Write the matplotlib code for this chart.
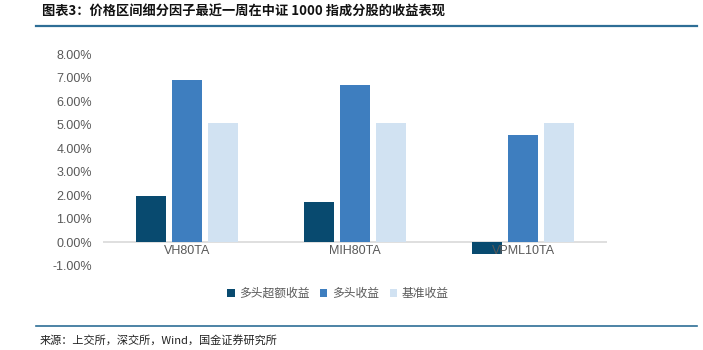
import numpy as np
import matplotlib.pyplot as plt
from matplotlib.ticker import FuncFormatter

plt.rcParams['font.family'] = ['Liberation Sans', 'Noto Sans CJK SC', 'DejaVu Sans']

# ── Data ─────────────────────────────────────────────────────────────────────
categories = ["VH80TA", "MIH80TA", "VPML10TA"]
series_names = ["多头超额收益", "多头收益", "基准收益"]
excess = [1.98, 1.71, -0.50]
long_ret = [6.88, 6.67, 4.56]
bench = [5.08, 5.08, 5.07]

COLORS = ["#084a6f", "#3e7ebf", "#d1e2f2"]
TEXT_GRAY = "#595959"

# ── Figure ───────────────────────────────────────────────────────────────────
fig = plt.figure(figsize=(7.03, 3.5), dpi=100)
ax = fig.add_axes([0.1465, 0.24, 0.717, 0.6057])

x = np.arange(len(categories))
w, step = 0.18, 0.214
for k, (vals, name, col) in enumerate(zip([excess, long_ret, bench], series_names, COLORS)):
    ax.bar(x + (k - 1) * step, vals, width=w, color=col, label=name, zorder=2)

ax.set_xlim(-0.5, 2.5)
ax.set_ylim(-1, 8)
ax.set_yticks(np.arange(-1, 9, 1))
ax.yaxis.set_major_formatter(FuncFormatter(lambda v, p: f"{v:.2f}%"))
ax.tick_params(axis="y", length=0, labelsize=9, labelcolor=TEXT_GRAY, pad=8)
ax.set_xticks([])
for s in ax.spines.values():
    s.set_visible(False)
ax.axhline(0, color="#d9d9d9", linewidth=1.2, zorder=1)

for i, c in enumerate(categories):
    ax.text(i, -0.12, c, ha="center", va="top", fontsize=9, color=TEXT_GRAY)

ax.legend(loc="center", bbox_to_anchor=(338 / 703, 1 - 294 / 350),
          bbox_transform=fig.transFigure, ncol=3, frameon=False,
          fontsize=8.5, labelcolor=TEXT_GRAY, handlelength=0.6, handleheight=0.6,
          handletextpad=0.4, columnspacing=0.9)

# title and source
fig.text(42 / 703, 1 - 12 / 350, "图表3：价格区间细分因子最近一周在中证 1000 指成分股的收益表现",
         fontsize=9.5, fontweight="bold", style="italic", va="center", ha="left",
         color="#111111", family=["Noto Sans CJK SC", "DejaVu Sans"])
fig.add_artist(plt.Line2D([36 / 703, 697 / 703], [1 - 25.5 / 350] * 2,
                          transform=fig.transFigure, color="#2e6e96", linewidth=1.6))
fig.add_artist(plt.Line2D([36 / 703, 697 / 703], [1 - 325.5 / 350] * 2,
                          transform=fig.transFigure, color="#2e6e96", linewidth=1.2))
fig.text(40 / 703, 1 - 340 / 350, "来源：上交所，深交所，Wind，国金证券研究所",
         fontsize=8, va="center", ha="left", color="#222222",
         family=["Noto Sans CJK SC", "DejaVu Sans"])

fig.savefig("out.png", dpi=100, facecolor="white")
